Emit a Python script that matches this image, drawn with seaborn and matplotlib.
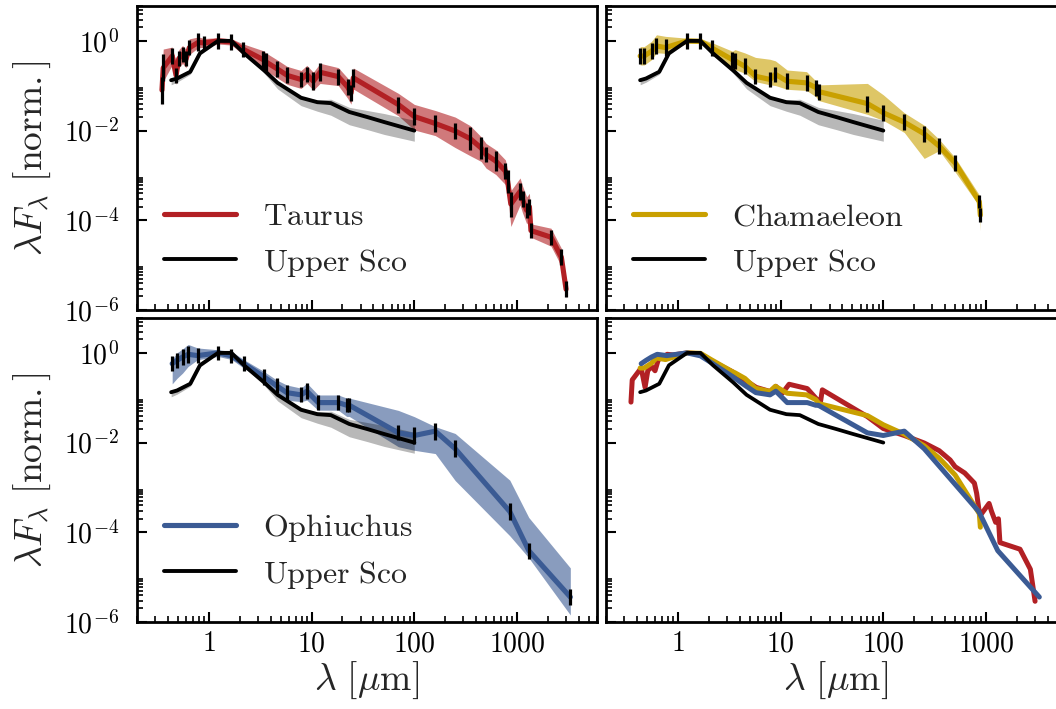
import numpy as np
import pandas as pd
import matplotlib
matplotlib.use("Agg")
import matplotlib.pyplot as plt
import seaborn as sns
from matplotlib.ticker import FixedLocator, FixedFormatter, LogLocator, NullFormatter

# ---------------- data ----------------
# Upper Sco median SED and its band
usco_lam = [0.43, 0.49, 0.66, 0.82, 1.23, 1.66, 2.2, 3.46, 4.67, 7.9, 11.4, 15.4, 23.3, 35, 51, 100]
usco_f = [0.133, 0.145, 0.205, 0.53, 1.0, 1.0, 0.53, 0.22, 0.116, 0.054, 0.043, 0.041, 0.026, 0.020, 0.0155, 0.010]
usco_hi = [0.14, 0.15, 0.21, 0.55, 1.02, 1.02, 0.55, 0.23, 0.125, 0.058, 0.048, 0.050, 0.033, 0.028, 0.024, 0.017]
usco_lo = [0.105, 0.12, 0.18, 0.48, 0.97, 0.95, 0.48, 0.19, 0.085, 0.036, 0.027, 0.022, 0.0135, 0.0105, 0.0082, 0.0058]

# Taurus
tau_lam = [0.35, 0.36, 0.44, 0.48, 0.51, 0.555, 0.60, 0.645, 0.79, 0.90, 1.23, 1.66, 2.16,
           3.4, 3.6, 4.6, 5.8, 7.9, 9.0, 10.4, 12.1, 18.2, 22.4, 24.2, 25.5,
           70, 100, 160, 250, 350, 447, 500, 620, 770, 810, 870, 1070, 1130, 1240, 1320,
           1365, 2140, 2700, 3000]
tau_f = [0.08, 0.25, 0.46, 0.17, 0.40, 0.50, 0.40, 0.70, 0.93, 0.90, 1.0, 0.95, 0.65,
         0.38, 0.34, 0.24, 0.17, 0.138, 0.18, 0.126, 0.20, 0.16, 0.094, 0.069, 0.15,
         0.038, 0.0206, 0.0144, 0.0098, 0.0066, 0.0041, 0.0029, 0.0021, 0.00125, 0.00074,
         0.00023, 0.00044, 0.000294, 0.000167, 0.00020, 5.9e-5, 4.2e-5, 1.5e-5, 2.9e-6]
tau_hi = [0.35, 0.42, 0.2, 0.3, 0.2, 0.2, 0.2, 0.2, 0.12, 0.1, 0.07, 0.07, 0.12,
          0.2, 0.2, 0.2, 0.2, 0.2, 0.2, 0.2, 0.2, 0.2, 0.2, 0.2, 0.22,
          0.25, 0.27, 0.29, 0.31, 0.29, 0.25, 0.25, 0.25, 0.25, 0.25, 0.3, 0.3, 0.3, 0.3, 0.3,
          0.15, 0.2, 0.2, 0.2]
tau_lo = [0.38, 0.3, 0.2, 0.2, 0.2, 0.2, 0.2, 0.15, 0.12, 0.1, 0.07, 0.07, 0.12,
          0.2, 0.2, 0.2, 0.2, 0.2, 0.2, 0.2, 0.25, 0.2, 0.25, 0.25, 0.25,
          0.25, 0.3, 0.27, 0.37, 0.38, 0.3, 0.3, 0.3, 0.3, 0.3, 0.5, 0.3, 0.3, 0.3, 0.3,
          0.15, 0.2, 0.2, 0.2]
tau_err = [0.3, 0.3, 0.18, 0.17, 0.17, 0.17, 0.17, 0.17, 0.2, 0.15, 0.17, 0.17, 0.17,
           0.2, 0.2, 0.18, 0.18, 0.17, 0.17, 0.2, 0.2, 0.18, 0.17, 0.17, 0.2,
           0.18, 0.18, 0.18, 0.18, 0.25, 0.25, 0.17, 0.22, 0.18, 0.25, 0.28, 0.18, 0.18, 0.17,
           0.18, 0.17, 0.17, 0.18, 0.18]

# Chamaeleon
cha_lam = [0.43, 0.47, 0.555, 0.62, 0.76, 1.23, 1.66, 2.13, 3.4, 3.6, 4.5, 5.7, 7.9, 8.9,
           11.6, 17.9, 22, 23.6, 70, 100, 160, 250, 350, 500, 860, 880]
cha_f = [0.46, 0.46, 0.59, 0.77, 0.71, 1.0, 0.98, 0.70, 0.38, 0.36, 0.27, 0.163, 0.138, 0.18,
         0.126, 0.116, 0.091, 0.074, 0.040, 0.025, 0.0154, 0.0085, 0.0045, 0.0019, 0.00026, 0.00013]
cha_hi = [0.21, 0.21, 0.22, 0.25, 0.25, 0.06, 0.06, 0.12, 0.19, 0.25, 0.3, 0.42, 0.45, 0.3,
          0.25, 0.25, 0.15, 0.15, 0.45, 0.4, 0.21, 0.19, 0.15, 0.12, 0.15, 0.12]
cha_lo = [0.2, 0.2, 0.19, 0.15, 0.13, 0.05, 0.05, 0.12, 0.2, 0.2, 0.15, 0.12, 0.12, 0.25,
          0.18, 0.17, 0.2, 0.2, 0.24, 0.17, 0.23, 0.55, 0.1, 0.2, 0.1, 0.35]
cha_err = [0.17, 0.17, 0.18, 0.18, 0.18, 0.18, 0.18, 0.18, 0.18, 0.18, 0.18, 0.17, 0.17, 0.17,
           0.18, 0.18, 0.18, 0.18, 0.18, 0.18, 0.18, 0.18, 0.18, 0.18, 0.15, 0.15]

# Ophiuchus
oph_lam = [0.44, 0.49, 0.555, 0.63, 0.78, 1.23, 1.66, 2.18, 3.46, 4.56, 5.75, 7.9, 9.0,
           11.6, 18.2, 22, 23.3, 70, 100, 160, 250, 850, 1300, 3300]
oph_f = [0.575, 0.68, 0.81, 0.93, 0.87, 1.0, 0.86, 0.58, 0.29, 0.185, 0.13, 0.116, 0.14,
         0.078, 0.078, 0.068, 0.068, 0.0165, 0.0144, 0.018, 0.0073, 2.9e-4, 3.9e-5, 3.6e-6]
oph_hi = [0.1, 0.17, 0.18, 0.22, 0.17, 0.07, 0.1, 0.09, 0.12, 0.13, 0.17, 0.15, 0.18,
          0.17, 0.17, 0.16, 0.16, 0.5, 0.42, 0.1, 0.34, 0.7, 0.74, 0.65]
oph_lo = [0.45, 0.4, 0.36, 0.27, 0.09, 0.08, 0.08, 0.1, 0.1, 0.13, 0.17, 0.15, 0.2,
          0.17, 0.17, 0.25, 0.25, 0.31, 0.33, 0.5, 0.71, 0.54, 0.16, 0.4]
oph_err = [0.17, 0.17, 0.17, 0.19, 0.17, 0.16, 0.16, 0.17, 0.18, 0.17, 0.17, 0.17, 0.18,
           0.17, 0.17, 0.16, 0.16, 0.17, 0.18, 0.19, 0.19, 0.18, 0.18, 0.18]

region_names = ["Taurus", "Chamaeleon", "Ophiuchus", "Upper Sco"]
region_colors = ["#b22024", "#c9a000", "#3b5b94", "#000000"]

x_major = [1, 10, 100, 1000]
x_major_labels = ["1", "10", "100", "1000"]
y_major_exp = [-6, -4, -2, 0]
xlim = (0.2, 6000)
ylim = (1e-6, 6)

# ---------------- style ----------------
sns.set_theme(style="ticks")
plt.rcParams.update({
    "font.family": ["DejaVu Serif"],
    "mathtext.fontset": "cm",
    "axes.linewidth": 2.0,
    "axes.edgecolor": "black",
    "xtick.color": "black",
    "ytick.color": "black",
})

W, H = 1056, 709
fig = plt.figure(figsize=(W / 100, H / 100), dpi=100)


def rect(l, t, r, b):
    return [l / W, 1 - b / H, (r - l) / W, (b - t) / H]


ax_tl = fig.add_axes(rect(137, 6, 597, 310))
ax_tr = fig.add_axes(rect(606, 6, 1066, 310))
ax_bl = fig.add_axes(rect(137, 318, 597, 622))
ax_br = fig.add_axes(rect(606, 318, 1066, 622))
axes = [ax_tl, ax_tr, ax_bl, ax_br]

y_minor = [k * 10.0 ** e for e in y_major_exp for k in range(2, 10)]

for ax in axes:
    ax.set_xscale("log")
    ax.set_yscale("log")
    ax.set_xlim(*xlim)
    ax.set_ylim(*ylim)
    ax.set_facecolor("white")
    for s in ax.spines.values():
        s.set_linewidth(2.0)
        s.set_color("black")
    ax.xaxis.set_major_locator(FixedLocator(x_major))
    ax.xaxis.set_minor_locator(LogLocator(base=10, subs=np.arange(2, 10), numticks=50))
    ax.yaxis.set_major_locator(FixedLocator([10.0 ** e for e in y_major_exp]))
    ax.yaxis.set_minor_locator(FixedLocator(y_minor))
    ax.xaxis.set_minor_formatter(NullFormatter())
    ax.yaxis.set_minor_formatter(NullFormatter())
    ax.xaxis.set_major_formatter(FixedFormatter(["$%s$" % t for t in x_major_labels]))
    ax.yaxis.set_major_formatter(FixedFormatter(["$10^{%d}$" % e for e in y_major_exp]))
    ax.tick_params(which="both", direction="in", top=False, right=False,
                   labelsize=20, colors="black")
    ax.tick_params(which="major", length=7, width=1.5)
    ax.tick_params(which="minor", length=4, width=1.2)
    ax.tick_params(axis="y", pad=13)
    ax.tick_params(axis="x", pad=6)

for ax in (ax_tl, ax_tr):
    ax.tick_params(labelbottom=False)
for ax in (ax_tr, ax_br):
    ax.tick_params(labelleft=False)

ylab = r"$\lambda F_\lambda\ [\mathrm{norm.}]$"
xlab = r"$\lambda\ [\mu\mathrm{m}]$"
for ax in (ax_tl, ax_bl):
    ax.set_ylabel(ylab, fontsize=27, labelpad=8)
for ax in (ax_bl, ax_br):
    ax.set_xlabel(xlab, fontsize=27, labelpad=2)


def draw_band(ax, lam, f, lo, hi, color, alpha, z=1):
    f = np.asarray(f)
    ax.fill_between(lam, f * 10 ** (-np.asarray(lo)), f * 10 ** np.asarray(hi),
                    color=color, alpha=alpha, lw=0, zorder=z)


def draw_line(ax, lam, f, color, lw, label=None, z=2):
    df = pd.DataFrame({"lam": lam, "f": f})
    sns.lineplot(data=df, x="lam", y="f", ax=ax, color=color, lw=lw,
                 estimator=None, sort=False, label=label, zorder=z, legend=False)


def draw_err(ax, lam, f, err):
    f = np.asarray(f)
    e = np.asarray(err)
    ax.errorbar(lam, f, yerr=[f - f * 10 ** (-e), f * 10 ** e - f], fmt="none",
                ecolor="black", elinewidth=2.3, capsize=0, zorder=5)


panels = [
    (ax_tl, tau_lam, tau_f, tau_lo, tau_hi, tau_err, 0),
    (ax_tr, cha_lam, cha_f, cha_lo, cha_hi, cha_err, 1),
    (ax_bl, oph_lam, oph_f, oph_lo, oph_hi, oph_err, 2),
]
for ax, lam, f, lo, hi, err, i in panels:
    draw_band(ax, lam, f, lo, hi, region_colors[i], 0.6, z=1)
    draw_line(ax, lam, f, region_colors[i], 3.7, label=r"$\mathrm{%s}$" % region_names[i], z=2)
    ax.fill_between(usco_lam, usco_lo, usco_hi, color="black", alpha=0.28, lw=0, zorder=1.5)
    draw_line(ax, usco_lam, usco_f, "black", 2.8, label=r"$\mathrm{Upper\ Sco}$", z=3)
    draw_err(ax, lam, f, err)
    ax.legend(loc="lower left", frameon=False, fontsize=23, handlelength=2.25,
              handletextpad=0.85, labelspacing=0.45, borderaxespad=0.45,
              bbox_to_anchor=(0.0, 0.014))

# combined panel
draw_line(ax_br, tau_lam, tau_f, region_colors[0], 3.6, z=2)
draw_line(ax_br, cha_lam, cha_f, region_colors[1], 3.6, z=2.1)
draw_line(ax_br, oph_lam, oph_f, region_colors[2], 3.6, z=2.2)
draw_line(ax_br, usco_lam, usco_f, "black", 2.7, z=2.3)
if ax_br.get_legend() is not None:
    ax_br.get_legend().remove()

fig.savefig("out.png", dpi=100)
